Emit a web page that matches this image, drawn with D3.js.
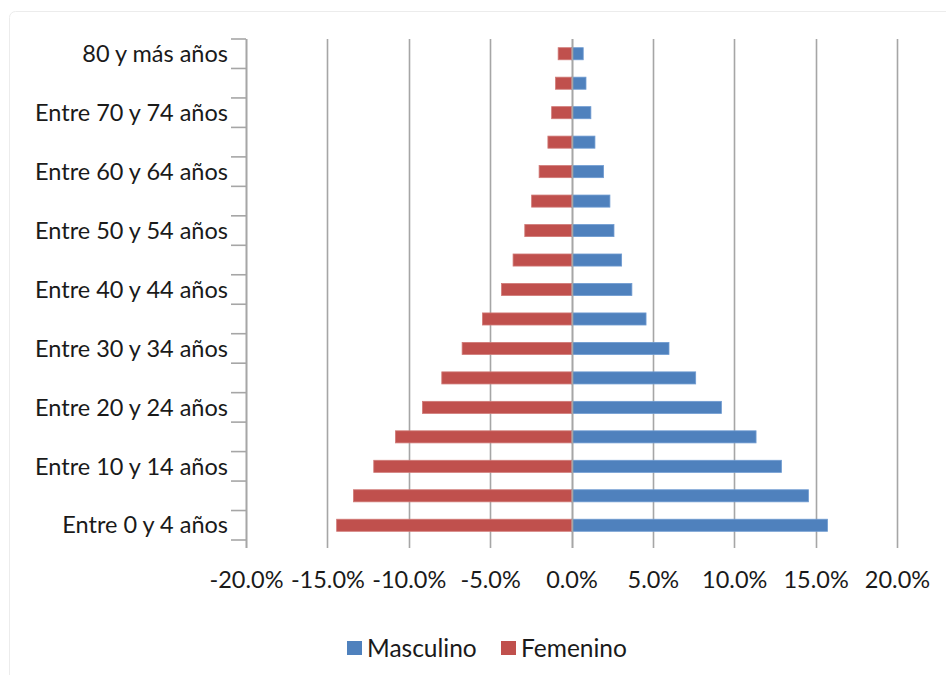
<!DOCTYPE html>
<html>
<head>
<meta charset="utf-8">
<script src="https://cdn.jsdelivr.net/npm/d3@7/dist/d3.min.js"></script>
<style>
  html, body { margin: 0; padding: 0; background: #fff; }
  svg { display: block; }
  text { font-family: Lato, "Open Sans", sans-serif; fill: #1a1a1a; }
</style>
</head>
<body>
<svg id="chart" width="946" height="675"></svg>
<script>
// Age groups, youngest first (drawn bottom to top)
const ageGroups = [
  "Entre 0 y 4 años", "Entre 5 y 9 años", "Entre 10 y 14 años", "Entre 15 y 19 años",
  "Entre 20 y 24 años", "Entre 25 y 29 años", "Entre 30 y 34 años", "Entre 35 y 39 años",
  "Entre 40 y 44 años", "Entre 45 y 49 años", "Entre 50 y 54 años", "Entre 55 y 59 años",
  "Entre 60 y 64 años", "Entre 65 y 69 años", "Entre 70 y 74 años", "Entre 75 y 79 años",
  "80 y más años"
];

// Share of population (%) per age group
const masculino = [15.73, 14.56, 12.90, 11.34, 9.21, 7.63, 5.99, 4.58, 3.71, 3.08, 2.61, 2.36, 1.97, 1.44, 1.19, 0.89, 0.72];
const femenino  = [-14.43, -13.40, -12.15, -10.82, -9.16, -7.97, -6.72, -5.47, -4.30, -3.59, -2.87, -2.45, -1.99, -1.45, -1.22, -0.98, -0.82];

const xTicks = [-20, -15, -10, -5, 0, 5, 10, 15, 20];
const seriesNames = ["Masculino", "Femenino"];
const seriesColors = ["#4F81BD", "#C0504D"];
const seriesStroke = ["#6f9bd1", "#d07a77"];

const svg = d3.select("#chart");

// faint outer chart frame
svg.append("rect")
  .attr("x", 9.5).attr("y", 11.5)
  .attr("width", 980).attr("height", 720)
  .attr("rx", 6)
  .attr("fill", "#fff")
  .attr("stroke", "#ececec");

const plot = { left: 246, right: 897, top: 39, bottom: 540 };

const x = d3.scaleLinear().domain([-20, 20]).range([plot.left, plot.right]);
const y = d3.scaleBand()
  .domain(ageGroups.slice().reverse())
  .range([plot.top, plot.bottom])
  .paddingInner(0.59)
  .paddingOuter(0.295);

// band boundaries for y-axis tick marks
const yStep = (plot.bottom - plot.top) / ageGroups.length;

// vertical gridlines (extend below as the x-axis tick marks)
svg.append("g")
  .selectAll("line")
  .data(xTicks)
  .join("line")
  .attr("x1", d => Math.round(x(d)) + 0.5)
  .attr("x2", d => Math.round(x(d)) + 0.5)
  .attr("y1", plot.top)
  .attr("y2", plot.bottom + 8)
  .attr("stroke", "#a6a6a6")
  .attr("stroke-width", 1.6);

// bars
const rows = ageGroups.map((g, i) => ({ g, m: masculino[i], f: femenino[i] }));
const barG = svg.append("g");
[["m", 0], ["f", 1]].forEach(([key, si]) => {
  barG.selectAll(".bar-" + key)
    .data(rows)
    .join("rect")
    .attr("class", "bar-" + key)
    .attr("x", d => x(Math.min(0, d[key])))
    .attr("width", d => Math.abs(x(d[key]) - x(0)))
    .attr("y", d => y(d.g))
    .attr("height", y.bandwidth())
    .attr("fill", seriesColors[si])
    .attr("stroke", seriesStroke[si])
    .attr("stroke-width", 0.8);
});

// zero line over the bars
svg.append("line")
  .attr("x1", Math.round(x(0)) + 0.5).attr("x2", Math.round(x(0)) + 0.5)
  .attr("y1", plot.top).attr("y2", plot.bottom + 8)
  .attr("stroke", "#a6a6a6").attr("stroke-width", 1.6);

// y axis: line, tick marks at band boundaries, every other label
const yAxisG = svg.append("g");
yAxisG.append("line")
  .attr("x1", plot.left + 0.5).attr("x2", plot.left + 0.5)
  .attr("y1", plot.top).attr("y2", plot.bottom + 8)
  .attr("stroke", "#a6a6a6").attr("stroke-width", 1.6);
yAxisG.selectAll(".ytick")
  .data(d3.range(ageGroups.length + 1))
  .join("line")
  .attr("class", "ytick")
  .attr("x1", plot.left - 15).attr("x2", plot.left)
  .attr("y1", i => plot.top + i * yStep)
  .attr("y2", i => plot.top + i * yStep)
  .attr("stroke", "#a6a6a6").attr("stroke-width", 1.6);
yAxisG.selectAll(".ylabel")
  .data(ageGroups.filter((d, i) => i % 2 === 0))
  .join("text")
  .attr("class", "ylabel")
  .attr("x", plot.left - 18)
  .attr("y", d => y(d) + y.bandwidth() / 2)
  .attr("dy", "0.35em")
  .attr("text-anchor", "end")
  .attr("font-size", 23.5)
  .text(d => d);

// x axis labels
const xAxis = d3.axisBottom(x)
  .tickValues(xTicks)
  .tickFormat(d => d.toFixed(1) + "%")
  .tickSize(0)
  .tickPadding(0);
const xg = svg.append("g")
  .attr("transform", `translate(0, ${plot.bottom + 40})`)
  .call(xAxis);
xg.select(".domain").remove();
xg.selectAll("text")
  .attr("font-size", 23.5)
  .attr("font-family", "Lato, 'Open Sans', sans-serif")
  .attr("fill", "#1a1a1a")
  .attr("dy", "0.35em")
  .attr("y", 0);

// legend
const legend = svg.append("g").attr("transform", "translate(0, 648)");
const legendX = [347, 501];
seriesNames.forEach((name, i) => {
  legend.append("rect")
    .attr("x", legendX[i]).attr("y", -7)
    .attr("width", 15).attr("height", 14)
    .attr("fill", seriesColors[i]);
  legend.append("text")
    .attr("x", legendX[i] + 20).attr("y", 0)
    .attr("dy", "0.35em")
    .attr("font-size", 24.5)
    .text(name);
});
</script>
</body>
</html>
